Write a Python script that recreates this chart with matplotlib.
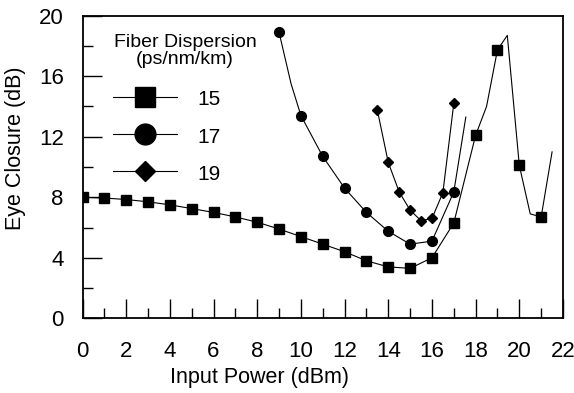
import matplotlib
matplotlib.use('Agg')
import matplotlib.pyplot as plt
from matplotlib.lines import Line2D
from matplotlib.ticker import MultipleLocator

plt.rcParams['font.family'] = ['Liberation Sans', 'DejaVu Sans']

# === Messwerte: Eye Closure (dB) vs. Input Power (dBm) ===
# D = 15 ps/nm/km
p15 = [0, 1, 2, 3, 4, 5, 6, 7, 8, 9, 10, 11, 12, 13, 14, 15, 16, 17, 18, 19, 20, 21]
ec15 = [8.0, 7.95, 7.85, 7.7, 7.5, 7.25, 7.0, 6.7, 6.35, 5.9, 5.4, 4.9, 4.4, 3.8,
        3.4, 3.3, 4.0, 6.3, 12.1, 17.75, 10.1, 6.7]
# Knickpunkte der Kurve zwischen den Messpunkten
bend15_p = [18.5, 19.45, 20.5, 21.5]
bend15_ec = [14.0, 18.7, 6.9, 11.0]

# D = 17 ps/nm/km
p17 = [9, 10, 11, 12, 13, 14, 15, 16, 17]
ec17 = [18.9, 13.4, 10.7, 8.6, 7.0, 5.75, 4.9, 5.1, 8.35]
bend17_p = [9.55, 17.55]
bend17_ec = [15.5, 13.3]

# D = 19 ps/nm/km
p19 = [13.5, 14, 14.5, 15, 15.5, 16, 16.5, 17]
ec19 = [13.75, 10.3, 8.35, 7.15, 6.45, 6.6, 8.3, 14.2]

labels = ['15', '17', '19']
# ==========================================================


def curve(px, py, bx, by):
    pts = sorted(zip(list(px) + list(bx), list(py) + list(by)))
    return [p[0] for p in pts], [p[1] for p in pts]


fig = plt.figure(figsize=(5.74, 3.93), dpi=100)
ax = fig.add_axes([82.5 / 574, 1 - 318.3 / 393, (563 - 82.5) / 574, (318.3 - 15.7) / 393])

cx, cy = curve(p15, ec15, bend15_p, bend15_ec)
ax.plot(cx, cy, color='black', lw=0.8)
ax.plot(p15, ec15, 's', color='black', ms=7)

cx, cy = curve(p17, ec17, bend17_p, bend17_ec)
ax.plot(cx, cy, color='black', lw=0.8)
ax.plot(p17, ec17, 'o', color='black', ms=7)

ax.plot(p19, ec19, '-D', color='black', lw=0.8, ms=5.2)

ax.set_xlim(0, 22)
ax.set_ylim(0, 20)
ax.xaxis.set_major_locator(MultipleLocator(2))
ax.xaxis.set_minor_locator(MultipleLocator(1))
ax.yaxis.set_major_locator(MultipleLocator(4))
ax.yaxis.set_minor_locator(MultipleLocator(2))
ax.tick_params(which='both', direction='in', top=False, right=False,
               labelsize=16, width=1)
ax.tick_params(axis='x', pad=16)
ax.tick_params(axis='y', pad=13.5)
ax.tick_params(which='major', length=14)
ax.tick_params(which='minor', length=7)
for s in ax.spines.values():
    s.set_linewidth(1.3)

fig.text(260 / 574, 1 - 377 / 393, 'Input Power (dBm)', ha='center', va='center', fontsize=15.5)
fig.text(16 / 574, 1 - 148 / 393, 'Eye Closure (dB)', ha='center', va='center',
         rotation=90, fontsize=15.5)

# Legende
fig.text(185 / 574, 1 - 51 / 393, 'Fiber Dispersion\n(ps/nm/km)', ha='center', va='center',
         fontsize=14, linespacing=1.0)
handles = [
    Line2D([], [], color='black', lw=0.8, marker='s', ms=15),
    Line2D([], [], color='black', lw=0.8, marker='o', ms=15),
    Line2D([], [], color='black', lw=0.8, marker='D', ms=10.5),
]
ax.legend(handles, labels, loc='upper left', bbox_to_anchor=(113 / 574, 1 - 89 / 393),
          bbox_transform=fig.transFigure, frameon=False, fontsize=15,
          borderpad=0, borderaxespad=0, handlelength=3.07, handletextpad=0.96,
          labelspacing=0.8, handleheight=1.0)

fig.savefig('out.png', dpi=100)
